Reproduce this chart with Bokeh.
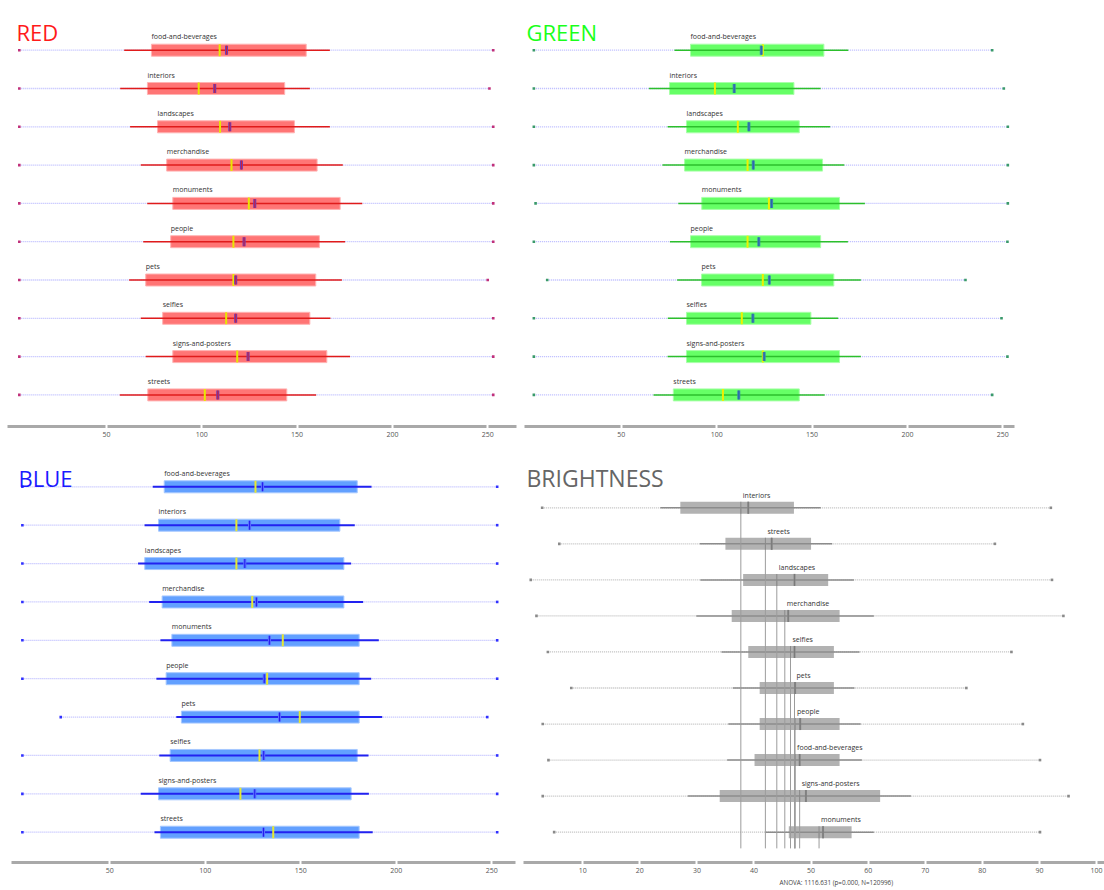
from bokeh.plotting import figure
from bokeh.models import Range1d, FixedTicker, Label, ColumnDataSource, Title
from bokeh.layouts import row, column
from bokeh.embed import file_html
from bokeh.resources import INLINE
from bokeh.core.properties import value

FONT = "Open Sans"

# ---- channel statistics per image category -------------------------------
categories = ["food-and-beverages", "interiors", "landscapes", "merchandise",
              "monuments", "people", "pets", "selfies", "signs-and-posters",
              "streets"]

red_min = [4.3, 4.3, 4.3, 4.3, 4.3, 4.3, 4.3, 4.3, 4.3, 4.3]
red_low = [59.3, 57.2, 62.4, 68.0, 71.4, 69.3, 61.9, 68.0, 70.6, 57.0]
red_q1 = [73.6, 71.5, 76.8, 81.6, 84.8, 83.7, 70.6, 79.5, 84.8, 71.7]
red_median = [109.4, 98.4, 109.6, 115.6, 124.7, 116.6, 116.6, 112.8, 118.6, 101.6]
red_mean = [113.0, 106.8, 114.7, 120.8, 127.8, 122.2, 117.8, 117.8, 124.3, 108.4]
red_q3 = [154.8, 143.5, 148.6, 160.5, 172.6, 161.7, 159.8, 156.7, 165.6, 144.6]
red_high = [167.2, 156.7, 167.2, 174.0, 184.2, 175.2, 173.5, 167.5, 177.8, 160.0]
red_max = [252.9, 250.9, 252.9, 252.9, 252.9, 252.9, 250.0, 252.9, 252.9, 252.9]

green_min = [4.2, 4.2, 4.2, 4.2, 5.1, 4.2, 11.2, 4.2, 4.2, 4.2]
green_low = [77.9, 64.5, 74.3, 71.6, 79.9, 75.5, 79.3, 74.4, 74.3, 66.9]
green_q1 = [86.3, 75.3, 84.2, 83.2, 92.2, 86.3, 92.1, 84.2, 84.2, 77.3]
green_median = [124.2, 99.1, 111.1, 116.2, 127.4, 116.2, 124.2, 113.2, 124.2, 103.3]
green_mean = [123.4, 109.2, 116.9, 119.2, 128.8, 122.1, 127.6, 119.0, 124.9, 111.6]
green_q3 = [156.2, 140.5, 143.3, 155.5, 164.4, 154.5, 161.4, 149.4, 164.4, 143.3]
green_high = [169.0, 154.5, 159.5, 166.9, 177.7, 168.8, 175.6, 163.7, 175.6, 156.6]
green_max = [244.4, 250.5, 252.6, 252.6, 252.6, 252.4, 230.4, 249.3, 252.4, 244.4]

blue_min = [4.2, 4.2, 4.2, 4.2, 4.2, 4.2, 24.3, 4.2, 4.2, 4.2]
blue_low = [72.5, 68.2, 64.8, 70.6, 76.5, 74.4, 84.8, 75.9, 66.2, 73.4]
blue_q1 = [78.5, 75.5, 68.3, 77.4, 82.5, 79.5, 87.5, 81.6, 75.5, 76.5]
blue_median = [126.3, 116.3, 116.3, 124.6, 140.6, 132.4, 149.5, 128.4, 118.4, 135.6]
blue_mean = [130.0, 123.2, 120.7, 126.8, 133.6, 130.9, 138.9, 130.6, 125.9, 130.5]
blue_q3 = [179.6, 170.5, 172.6, 172.6, 180.6, 180.6, 180.6, 179.6, 176.4, 180.6]
blue_high = [187.1, 178.3, 176.4, 182.7, 190.9, 186.9, 192.7, 185.5, 185.7, 187.7]
blue_max = [252.9, 252.9, 252.9, 252.9, 252.9, 252.9, 247.7, 252.9, 252.9, 252.9]

bright_categories = ["interiors", "streets", "landscapes", "merchandise", "selfies",
                     "pets", "people", "food-and-beverages", "signs-and-posters",
                     "monuments"]
bright_min = [2.9, 5.9, 0.9, 1.9, 3.9, 8.0, 3.0, 4.0, 3.0, 5.0]
bright_low = [23.6, 30.5, 30.6, 29.9, 34.3, 36.3, 35.5, 35.3, 28.4, 42.0]
bright_q1 = [27.1, 35.0, 38.1, 36.1, 39.0, 41.0, 41.0, 40.1, 34.0, 46.1]
bright_median = [37.7, 42.0, 44.0, 45.4, 46.4, 47.1, 47.2, 47.2, 48.0, 51.4]
bright_mean = [39.0, 43.1, 47.1, 46.0, 47.1, 47.2, 48.1, 48.0, 49.1, 52.1]
bright_q3 = [47.0, 50.0, 53.0, 55.0, 54.0, 54.0, 55.0, 55.0, 62.1, 57.1]
bright_high = [51.7, 53.7, 57.5, 61.0, 58.5, 57.6, 58.7, 58.9, 67.5, 61.0]
bright_max = [92.0, 82.2, 92.2, 94.2, 85.1, 77.2, 87.1, 90.1, 95.1, 90.1]

rgb_ticks = [50, 100, 150, 200, 250]
bright_ticks = [10, 20, 30, 40, 50, 60, 70, 80, 90, 100]
anova_text = "ANOVA: 1116.631 (p=0.000, N=120996)"

# ---- styles ---------------------------------------------------------------
STYLES = {
    "RED": dict(title="#ff1a1a", box="#ff7575", box_line="#ffb3b3", whisk="#e01b1b",
                whisk_w=1.5, median="#e8e800", mean_edge="#6a3cb8", mean_core="#d81c30",
                dots="#b8b8ff", ends="#c0307a", label_at_median=False),
    "GREEN": dict(title="#1aff1a", box="#66ff66", box_line="#a8ffa8", whisk="#2cbf2c",
                  whisk_w=1.5, median="#f0f000", mean_edge="#3c8ca8", mean_core="#2a5fb0",
                  dots="#b8b8ff", ends="#3a9a6a", label_at_median=False),
    "BLUE": dict(title="#1a1aff", box="#62a0ff", box_line="#a6c8ff", whisk="#2222f0",
                 whisk_w=2, median="#e8e830", mean_edge="#5a6cff", mean_core="#2020ee",
                 dots="#b8b8ff", ends="#3030ff", label_at_median=False),
    "BRIGHTNESS": dict(title="#666666", box="#b2b2b2", box_line=None, whisk="#8c8c8c",
                       whisk_w=1.5, median="#8a8a8a", mean_edge="#8a8a8a", mean_core="#7a7a7a",
                       dots="#bdbdbd", ends="#8a8a8a", label_at_median=True),
}


def box_panel(name, cats, vmin, low, q1, med, mean, q3, high, vmax, ticks,
              width, height, border_left, border_right, border_bottom,
              x_start, x_end, row0, step, title_xy, title_size="22px",
              median_w=2, median_h=12, mean_w=3, mean_h=9, box_px=12,
              footnote=None, ref_lines=False):
    st = STYLES[name]
    frame_h = height - border_bottom
    top = -row0 / step
    bottom = top + frame_h / step
    n = len(cats)
    src = ColumnDataSource(dict(
        row=list(range(n)), cat=cats, vmin=vmin, low=low, q1=q1, med=med,
        mean=mean, q3=q3, high=high, vmax=vmax,
    ))

    p = figure(width=width, height=height, x_range=Range1d(x_start, x_end),
               y_range=Range1d(bottom, top), y_axis_location=None,
               toolbar_location=None, output_backend="svg",
               min_border_left=border_left, min_border_right=border_right,
               min_border_top=0, min_border_bottom=border_bottom)
    p.outline_line_color = None
    p.xgrid.visible = False
    p.ygrid.visible = False
    p.background_fill_color = "white"
    p.border_fill_color = "white"

    # min..max dotted range
    p.segment(x0="vmin", y0="row", x1="vmax", y1="row", source=src,
              line_color=st["dots"], line_width=1.3, line_dash="1 1")
    # interquartile box
    p.hbar(y="row", left="q1", right="q3", height=box_px / step, source=src,
           fill_color=st["box"], line_color=st["box_line"], line_width=1)
    # whisker line through the box
    p.segment(x0="low", y0="row", x1="high", y1="row", source=src,
              line_color=st["whisk"], line_width=st["whisk_w"])
    if ref_lines:
        # median guide lines running down to the axis
        p.segment(x0="med", y0="row", x1="med", y1=n - 0.55, source=src,
                  line_color="#9c9c9c", line_width=1)
    # median and mean marks
    p.rect(x="med", y="row", width=median_w, height=median_h, width_units="screen",
           height_units="screen", source=src, fill_color=st["median"], line_color=None)
    p.rect(x="mean", y="row", width=mean_w, height=mean_h, width_units="screen",
           height_units="screen", source=src, fill_color=st["mean_edge"], line_color=None)
    p.rect(x="mean", y="row", width=max(mean_w - 2, 1), height=mean_h, width_units="screen",
           height_units="screen", source=src, fill_color=st["mean_core"], line_color=None)
    # range end points
    p.scatter(x="vmin", y="row", source=src, marker="square", size=2.6,
              fill_color=st["ends"], line_color=None)
    p.scatter(x="vmax", y="row", source=src, marker="square", size=2.6,
              fill_color=st["ends"], line_color=None)

    # category names above the boxes
    if st["label_at_median"]:
        p.text(x="med", y="row", text="cat", source=src, x_offset=2, y_offset=-8,
               text_baseline="bottom", text_align="left", text_font=value(FONT),
               text_font_size="7px", text_color="#333333")
    else:
        p.text(x="q1", y="row", text="cat", source=src, x_offset=0, y_offset=-9,
               text_baseline="bottom", text_align="left", text_font=value(FONT),
               text_font_size="7px", text_color="#333333")

    # axis: thick grey bar with white breaks at the ticks
    ax = p.xaxis[0]
    ax.ticker = FixedTicker(ticks=ticks)
    ax.axis_line_color = "#a9a9a9"
    ax.axis_line_width = 3
    ax.major_tick_line_color = "white"
    ax.major_tick_line_width = 2
    ax.major_tick_in = 2
    ax.major_tick_out = 2
    ax.minor_tick_line_color = None
    ax.major_label_standoff = 3
    ax.major_label_text_font = FONT
    ax.major_label_text_font_size = "7px"
    ax.major_label_text_color = "#555555"

    if footnote:
        p.add_layout(Title(text=footnote[0], align="left", offset=footnote[1],
                           standoff=1, text_font=FONT, text_font_size="6.3px",
                           text_font_style="normal", text_color="#444444"), "below")

    p.add_layout(Label(x=title_xy[0], y=frame_h - title_xy[1], x_units="screen",
                       y_units="screen", text=name, text_font=FONT,
                       text_font_size=title_size, text_color=st["title"],
                       text_baseline="alphabetic"))
    return p


p_red = box_panel("RED", categories, red_min, red_low, red_q1, red_median, red_mean,
                  red_q3, red_high, red_max, rgb_ticks,
                  width=520, height=445, border_left=7, border_right=4, border_bottom=19,
                  x_start=-1.9, x_end=265.1, row0=49.7, step=38.3, title_xy=(9, 31))

p_green = box_panel("GREEN", categories, green_min, green_low, green_q1, green_median,
                    green_mean, green_q3, green_high, green_max, rgb_ticks,
                    width=584, height=445, border_left=4, border_right=90, border_bottom=19,
                    x_start=-0.7, x_end=256.1, row0=49.7, step=38.3, title_xy=(2, 31))

p_blue = box_panel("BLUE", categories, blue_min, blue_low, blue_q1, blue_median,
                   blue_mean, blue_q3, blue_high, blue_max, rgb_ticks,
                   width=520, height=445, border_left=11, border_right=5, border_bottom=28,
                   x_start=-1.5, x_end=262.5, row0=41.3, step=38.38, title_xy=(7, 32))

p_bright = box_panel("BRIGHTNESS", bright_categories, bright_min, bright_low, bright_q1,
                     bright_median, bright_mean, bright_q3, bright_high, bright_max,
                     bright_ticks, width=584, height=445, border_left=3, border_right=0,
                     border_bottom=28, x_start=-0.37, x_end=101.4, row0=62.3, step=36.04,
                     title_xy=(3, 32), title_size="23px", median_w=1, median_h=12,
                     mean_w=2, mean_h=12, box_px=12,
                     footnote=(anova_text, 256), ref_lines=True)

layout = column(row(p_red, p_green), row(p_blue, p_bright))

with open("out.html", "w") as f:
    f.write(file_html(layout, INLINE))
